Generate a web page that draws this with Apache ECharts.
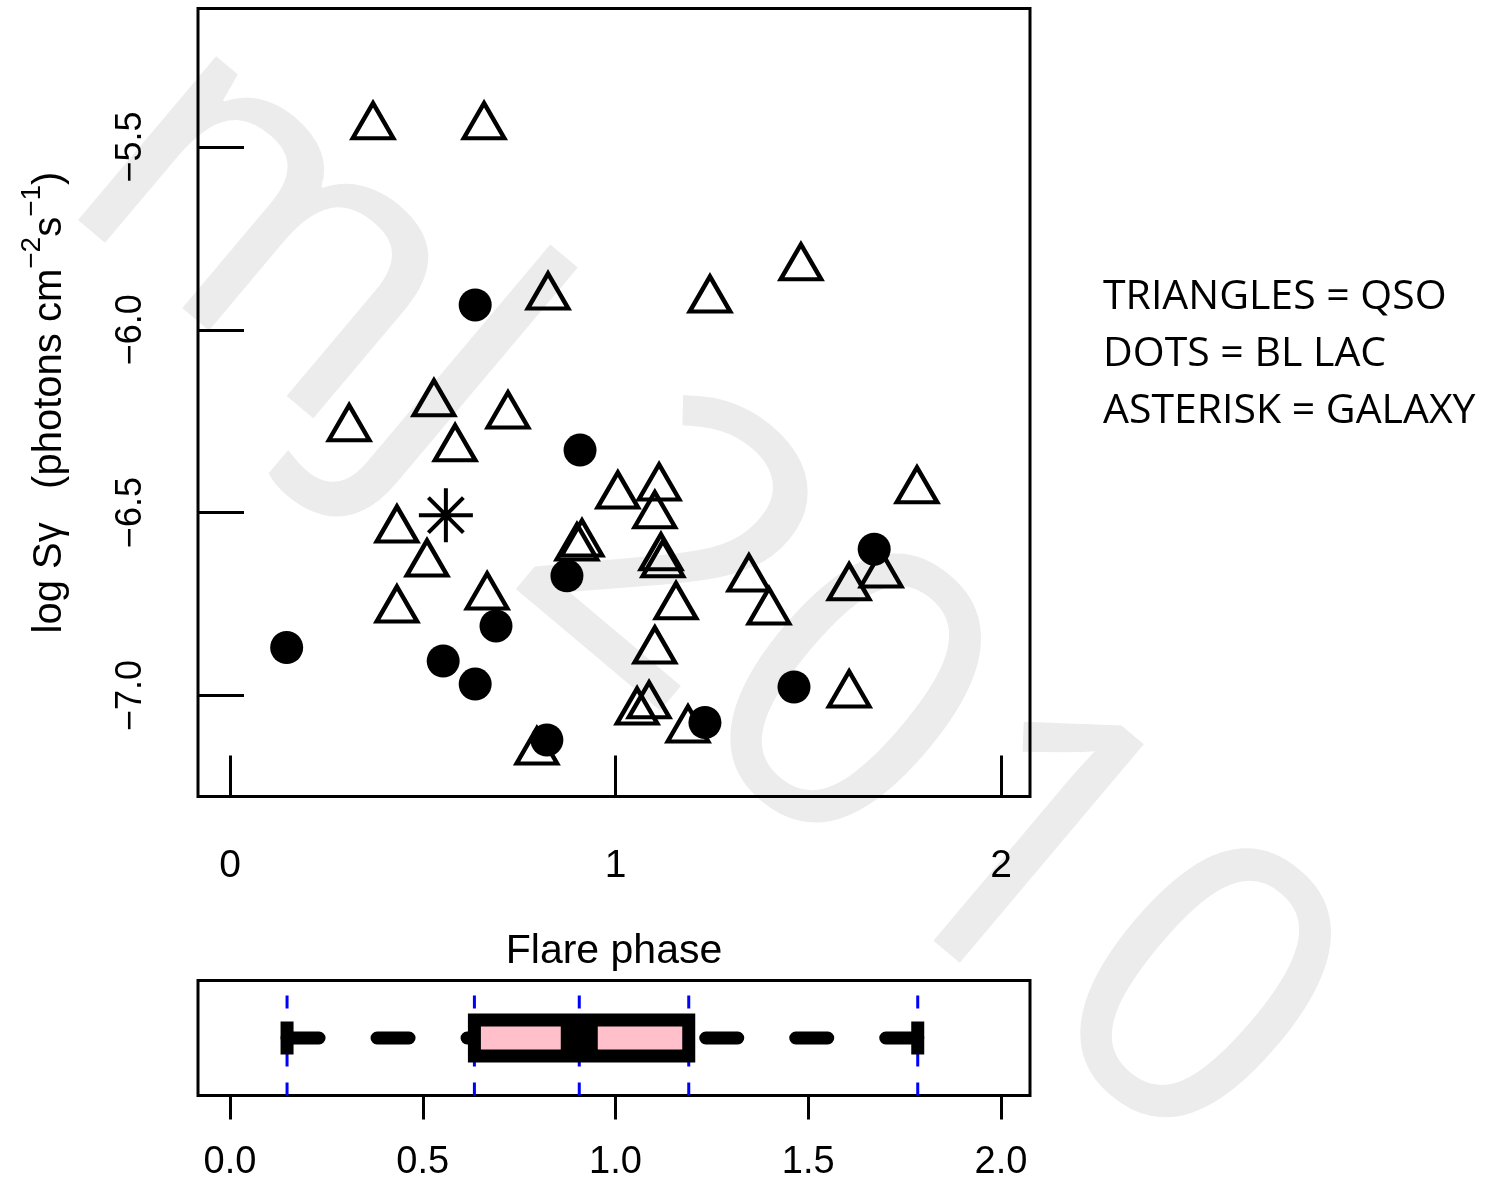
<!DOCTYPE html>
<html><head><meta charset="utf-8">
<script src="https://cdn.jsdelivr.net/npm/echarts@6/dist/echarts.min.js"></script>
<style>html,body{margin:0;padding:0;background:#fff}#c{width:1499px;height:1179px}</style>
</head><body><div id="c"></div>
<script>
// ---- data ----
const triX = [0.371, 0.659, 0.825, 1.245, 1.481, 0.309, 0.529, 0.584, 0.721, 0.433, 0.511, 0.433, 0.667, 0.900, 0.913, 1.006,
              1.113, 1.102, 1.118, 1.123, 1.157, 1.102, 1.056, 1.087, 1.188, 0.796, 1.346, 1.398, 1.606, 1.689, 1.782, 1.606];
const triY = [-5.444, -5.444, -5.910, -5.918, -5.830, -6.270, -6.202, -6.325, -6.235, -6.547, -6.640, -6.766, -6.730, -6.596, -6.585, -6.454,
              -6.432, -6.508, -6.623, -6.642, -6.757, -6.878, -7.045, -7.028, -7.094, -7.154, -6.681, -6.771, -6.705, -6.670, -6.440, -6.998];
const dotX = [0.147, 0.553, 0.636, 0.690, 0.874, 0.908, 0.636, 0.822, 1.232, 1.463, 1.671];
const dotY = [-6.869, -6.906, -6.969, -6.810, -6.673, -6.329, -5.932, -7.122, -7.074, -6.977, -6.600];
const starX = [0.560];
const starY = [-6.507];
const boxStats = [0.148, 0.634, 0.906, 1.19, 1.784];   // min, lower hinge, median, upper hinge, max
const refLines = [0.148, 0.634, 0.906, 1.19, 1.784];
const xTicksTop = [0, 1, 2];
const yTicks = [-7.0, -6.5, -6.0, -5.5];
const xTicksBottom = [0, 0.5, 1, 1.5, 2];
const legendLines = ['TRIANGLES = QSO', 'DOTS = BL LAC', 'ASTERISK = GALAXY'];
const watermarkText = 'mJ 2010';

const X_MIN = -0.083, X_MAX = 2.0752;
const Y_MIN = -7.2765, Y_MAX = -5.1212;
const FONT = '"Liberation Sans", Arial, sans-serif';

const chart = echarts.init(document.getElementById('c'), null, {renderer: 'canvas'});

const whiskerStyle = {stroke: '#000', lineWidth: 13, lineDash: [32, 58], lineCap: 'round'};

const option = {
  animation: false,
  backgroundColor: '#fff',
  grid: [
    {left: 198, top: 8.5, width: 832, height: 788, show: true, borderColor: '#000', borderWidth: 3,
     backgroundColor: 'transparent', containLabel: false, outerBoundsMode: 'none'},
    {left: 198, top: 980.5, width: 832, height: 115, show: true, borderColor: '#000', borderWidth: 3,
     backgroundColor: 'transparent', containLabel: false, outerBoundsMode: 'none'}
  ],
  xAxis: [
    {type: 'value', gridIndex: 0, min: X_MIN, max: X_MAX, position: 'bottom',
     axisLine: {show: false, onZero: false}, splitLine: {show: false},
     axisTick: {show: true, inside: true, length: 41, customValues: xTicksTop, lineStyle: {color: '#000', width: 3}},
     axisLabel: {show: true, customValues: xTicksTop, margin: 50, fontFamily: FONT, fontSize: 39, color: '#000',
                 formatter: v => String(Math.round(v))},
     name: 'Flare phase', nameLocation: 'middle', nameGap: 135,
     nameTextStyle: {fontFamily: FONT, fontSize: 41, color: '#000'}},
    {type: 'value', gridIndex: 1, min: X_MIN, max: X_MAX, position: 'bottom',
     axisLine: {show: false, onZero: false}, splitLine: {show: false},
     axisTick: {show: true, inside: false, length: 24, customValues: xTicksBottom, lineStyle: {color: '#000', width: 3}},
     axisLabel: {show: true, customValues: xTicksBottom, margin: 48, fontFamily: FONT, fontSize: 38, color: '#000',
                 formatter: v => v.toFixed(1)}}
  ],
  yAxis: [
    {type: 'value', gridIndex: 0, min: Y_MIN, max: Y_MAX, position: 'left',
     axisLine: {show: false, onZero: false}, splitLine: {show: false},
     axisTick: {show: true, inside: true, length: 46, customValues: yTicks, lineStyle: {color: '#000', width: 3}},
     axisLabel: {show: true, customValues: yTicks, rotate: 90, margin: 49, fontFamily: FONT, fontSize: 36, color: '#000',
                 formatter: v => v.toFixed(1).replace('-', '\u2212')},
     name: '{b|log S\u03B3   (photons cm}{s|\u22122}{b|s}{s|\u22121}{b|)}',
     nameLocation: 'middle', nameRotate: 90, nameGap: 128,
     nameTextStyle: {rich: {
       b: {fontFamily: FONT, fontSize: 40, color: '#000', lineHeight: 52, verticalAlign: 'bottom'},
       s: {fontFamily: FONT, fontSize: 28, color: '#000', lineHeight: 52, verticalAlign: 'top'}
     }}},
    {type: 'value', gridIndex: 1, min: 0, max: 1, show: false, axisLine: {onZero: false}}
  ],
  graphic: {elements: [
    {type: 'text', z: -10, x: 700, y: 595, rotation: -0.7, silent: true,
     style: {text: watermarkText, fontFamily: '"Noto Sans", sans-serif', fontSize: 400,
             fill: '#ececec', align: 'center', verticalAlign: 'middle'}},
    ...legendLines.map((t, i) => ({type: 'text', z: 10, x: 1103, y: 297 + i * 57, silent: true,
      style: {text: t, fontFamily: '"Open Sans", sans-serif', fontSize: 41, fill: '#000', align: 'left', verticalAlign: 'middle'}}))
  ]},
  series: [
    {type: 'scatter', xAxisIndex: 0, yAxisIndex: 0, z: 3,
     data: triX.map((x, i) => [x, triY[i]]),
     symbol: 'triangle', symbolSize: [40.5, 35], symbolOffset: [0, -5.8],
     itemStyle: {color: 'rgba(0,0,0,0)', borderColor: '#000', borderWidth: 4.3, borderJoin: 'miter', borderMiterLimit: 10, opacity: 1},
     emphasis: {disabled: true}, silent: true},
    {type: 'scatter', xAxisIndex: 0, yAxisIndex: 0, z: 4,
     data: dotX.map((x, i) => [x, dotY[i]]),
     symbol: 'circle', symbolSize: 33,
     itemStyle: {color: '#000', opacity: 1},
     emphasis: {disabled: true}, silent: true},
    {type: 'scatter', xAxisIndex: 0, yAxisIndex: 0, z: 5,
     data: starX.map((x, i) => [x, starY[i]]),
     symbol: 'path://M0,-27L0,27M-27,0L27,0M-17.5,-17.5L17.5,17.5M-17.5,17.5L17.5,-17.5', symbolSize: 54,
     itemStyle: {color: 'rgba(0,0,0,0)', borderColor: '#000', borderWidth: 4, opacity: 1},
     emphasis: {disabled: true}, silent: true},
    {type: 'custom', xAxisIndex: 1, yAxisIndex: 1, z: 2, silent: true,
     data: refLines.map(v => [v]),
     encode: {x: 0},
     renderItem: function (params, api) {
       const x = api.coord([api.value(0), 0])[0];
       const yb = api.coord([0, 0])[1];
       const yt = api.coord([0, 1])[1];
       return {type: 'line', shape: {x1: x, y1: yb, x2: x, y2: yt},
               style: {stroke: '#0000FF', lineWidth: 3, lineDash: [13, 16]}};
     }},
    {type: 'custom', xAxisIndex: 1, yAxisIndex: 1, z: 3, silent: true,
     data: [boxStats],
     encode: {x: [0, 1, 2, 3, 4]},
     renderItem: function (params, api) {
       const px = [0, 1, 2, 3, 4].map(k => api.coord([api.value(k), 0.5])[0]);
       const cy = api.coord([0, 0.5])[1];
       return {type: 'group', children: [
         {type: 'line', shape: {x1: px[0], y1: cy, x2: px[1], y2: cy}, style: whiskerStyle},
         {type: 'line', shape: {x1: px[4], y1: cy, x2: px[3], y2: cy}, style: whiskerStyle},
         {type: 'line', shape: {x1: px[0], y1: cy - 16.5, x2: px[0], y2: cy + 16.5}, style: {stroke: '#000', lineWidth: 13}},
         {type: 'line', shape: {x1: px[4], y1: cy - 16.5, x2: px[4], y2: cy + 16.5}, style: {stroke: '#000', lineWidth: 13}},
         {type: 'rect', shape: {x: px[1], y: cy - 18, width: px[3] - px[1], height: 36},
          style: {fill: '#FFC0CB', stroke: '#000', lineWidth: 13}},
         {type: 'line', shape: {x1: px[2], y1: cy - 18, x2: px[2], y2: cy + 18}, style: {stroke: '#000', lineWidth: 37}}
       ]};
     }}
  ]
};
chart.setOption(option);
</script></body></html>
